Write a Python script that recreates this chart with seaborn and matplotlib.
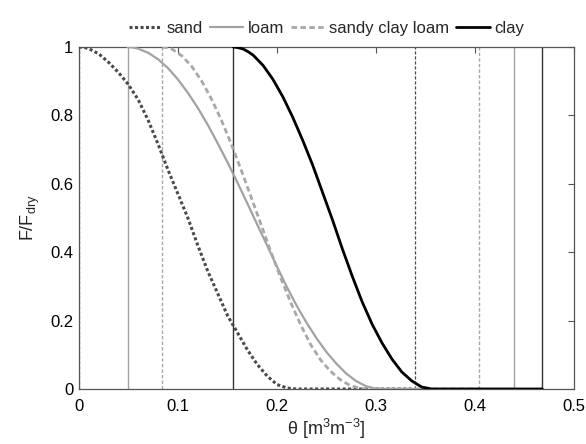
import matplotlib
matplotlib.use("Agg")
import matplotlib.pyplot as plt
import seaborn as sns
import pandas as pd

# Relative evaporation reduction F/F_dry versus volumetric soil moisture
soils = ["sand", "loam", "sandy clay loam", "clay"]

sand_theta = [0.0, 0.005, 0.01, 0.02, 0.03, 0.04, 0.05, 0.06, 0.07, 0.08, 0.09, 0.10,
              0.11, 0.12, 0.13, 0.14, 0.15, 0.16, 0.17, 0.18, 0.19, 0.20, 0.21,
              0.215, 0.22, 0.339]
sand_F = [1.0, 0.999, 0.995, 0.98, 0.955, 0.925, 0.89, 0.845, 0.785, 0.715, 0.64, 0.57,
          0.50, 0.42, 0.345, 0.28, 0.215, 0.165, 0.115, 0.072, 0.038, 0.013, 0.003,
          0.001, 0.0, 0.0]

loam_theta = [0.049, 0.054, 0.06, 0.07, 0.08, 0.09, 0.10, 0.11, 0.12, 0.13, 0.14, 0.15,
              0.16, 0.17, 0.18, 0.19, 0.20, 0.21, 0.22, 0.23, 0.24, 0.25, 0.26,
              0.27, 0.28, 0.29, 0.30, 0.31, 0.439]
loam_F = [1.0, 0.999, 0.995, 0.983, 0.964, 0.938, 0.905, 0.866, 0.822, 0.773, 0.719, 0.663,
          0.604, 0.543, 0.481, 0.42, 0.358, 0.298, 0.243, 0.193, 0.148, 0.108, 0.074,
          0.045, 0.023, 0.008, 0.001, 0.0, 0.0]

scl_theta = [0.084, 0.089, 0.094, 0.104, 0.114, 0.124, 0.134, 0.144, 0.154, 0.164, 0.174,
             0.184, 0.194, 0.204, 0.214, 0.224, 0.234, 0.244, 0.254, 0.264, 0.274,
             0.284, 0.29, 0.404]
scl_F = [1.0, 0.998, 0.994, 0.974, 0.943, 0.90, 0.847, 0.785, 0.715, 0.639, 0.56,
         0.48, 0.40, 0.323, 0.252, 0.187, 0.13, 0.085, 0.052, 0.027, 0.01,
         0.002, 0.0, 0.0]

clay_theta = [0.156, 0.161, 0.166, 0.171, 0.176, 0.186, 0.196, 0.206, 0.216, 0.226, 0.236,
              0.246, 0.256, 0.266, 0.276, 0.286, 0.296, 0.306, 0.316, 0.326, 0.336,
              0.346, 0.356, 0.468]
clay_F = [1.0, 0.998, 0.994, 0.986, 0.976, 0.946, 0.905, 0.854, 0.794, 0.727, 0.655,
          0.575, 0.495, 0.41, 0.33, 0.255, 0.19, 0.135, 0.088, 0.05, 0.024,
          0.006, 0.0, 0.0]

# residual (lower) and saturated (upper) moisture limits per soil
theta_low = [0.0, 0.049, 0.084, 0.156]
theta_sat = [0.339, 0.439, 0.404, 0.468]

x_ticks = [0, 0.1, 0.2, 0.3, 0.4, 0.5]
x_tick_labels = ["0", "0.1", "0.2", "0.3", "0.4", "0.5"]
y_ticks = [0, 0.2, 0.4, 0.6, 0.8, 1.0]
y_tick_labels = ["0", "0.2", "0.4", "0.6", "0.8", "1"]

sns.set_theme(style="white")
plt.rcParams["font.family"] = ["Liberation Sans", "DejaVu Sans"]
plt.rcParams["mathtext.fontset"] = "custom"
plt.rcParams["mathtext.rm"] = "Liberation Sans"
plt.rcParams["mathtext.it"] = "Liberation Sans"

frames = []
for name, th, f in zip(soils,
                       [sand_theta, loam_theta, scl_theta, clay_theta],
                       [sand_F, loam_F, scl_F, clay_F]):
    frames.append(pd.DataFrame({"soil": name, "theta": th, "F": f}))
df = pd.concat(frames, ignore_index=True)

styles = {
    "sand": dict(color="#4a4a4a", ls=(0, (1, 0.8)), lw=2.2, vls=(0, (2.5, 1.5)), vlw=0.9),
    "loam": dict(color="#a2a2a2", ls="-", lw=1.6, vls="-", vlw=1.0),
    "sandy clay loam": dict(color="#a8a8a8", ls=(0, (2, 1.2)), lw=2.0, vls=(0, (2.5, 1.5)), vlw=1.0),
    "clay": dict(color="#000000", ls="-", lw=2.0, vls="-", vlw=1.0),
}

fig = plt.figure(figsize=(5.86, 4.44), dpi=100)
ax = fig.add_axes([0.1348, 0.1239, 0.8447, 0.7702])

for name, lo, hi in zip(soils, theta_low, theta_sat):
    st = styles[name]
    vcol = "#333333" if name == "clay" else st["color"]
    for v in (lo, hi):
        ax.axvline(v, color=vcol, ls=st["vls"], lw=st["vlw"], zorder=1)

for name in soils:
    st = styles[name]
    sub = df[df["soil"] == name]
    sns.lineplot(data=sub, x="theta", y="F", ax=ax, color=st["color"],
                 linestyle=st["ls"], lw=st["lw"], label=name, zorder=3,
                 sort=False, estimator=None)

ax.set_xlim(0, 0.5)
ax.set_ylim(0, 1)
ax.set_xticks(x_ticks)
ax.set_xticklabels(x_tick_labels)
ax.set_yticks(y_ticks)
ax.set_yticklabels(y_tick_labels)
ax.tick_params(direction="in", length=4, width=0.8, color="#555555",
               top=True, right=True, labelsize=12, labelcolor="black")
ax.tick_params(axis="x", pad=7)
ax.tick_params(axis="y", pad=4)
for sp in ax.spines.values():
    sp.set_color("#555555")
    sp.set_linewidth(0.9)

ax.set_xlabel("θ [m$^{3}$m$^{-3}$]", fontsize=13, labelpad=2)
ax.set_ylabel("F/F$_{\\mathrm{dry}}$", fontsize=13, labelpad=6)

ax.legend(loc="lower center", bbox_to_anchor=(0.5, 1.0), ncol=4, frameon=False,
          fontsize=12, handlelength=2.0, handletextpad=0.3, columnspacing=0.4,
          borderaxespad=0.25)

fig.savefig("out.png", dpi=100)
